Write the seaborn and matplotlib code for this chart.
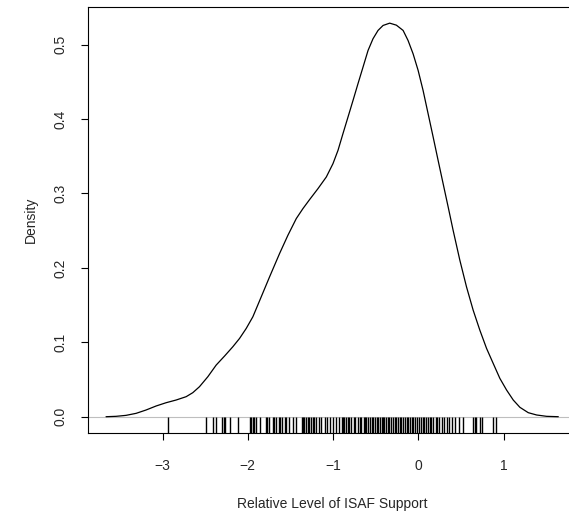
import numpy as np
import pandas as pd
import matplotlib
matplotlib.use("Agg")
import matplotlib.pyplot as plt
import seaborn as sns

# ---------------------- data ----------------------
# density curve, sampled along the drawn line
curve_x = [-3.662, -3.545, -3.428, -3.310, -3.193, -3.075, -2.958, -2.841, -2.723, -2.645,
           -2.567, -2.469, -2.371, -2.273, -2.176, -2.097, -2.019, -1.941, -1.843, -1.745,
           -1.628, -1.530, -1.432, -1.354, -1.276, -1.178, -1.080, -1.002, -0.943, -0.885,
           -0.826, -0.767, -0.709, -0.650, -0.591, -0.533, -0.474, -0.415, -0.337, -0.259,
           -0.180, -0.122, -0.063, -0.004, 0.054, 0.113, 0.172, 0.230, 0.289, 0.348,
           0.406, 0.485, 0.563, 0.641, 0.719, 0.798, 0.876, 0.954, 1.033, 1.111,
           1.189, 1.287, 1.385, 1.502, 1.639]
curve_y = [0.0, 0.0005, 0.0018, 0.0045, 0.0090, 0.0144, 0.0188, 0.0224, 0.0269, 0.0323,
           0.0403, 0.0537, 0.0694, 0.0815, 0.0940, 0.1052, 0.1186, 0.1343, 0.1611, 0.1880,
           0.2193, 0.2439, 0.2663, 0.2797, 0.2918, 0.3065, 0.3222, 0.3401, 0.3580, 0.3804,
           0.4027, 0.4251, 0.4475, 0.4698, 0.4922, 0.5079, 0.5191, 0.5258, 0.5289, 0.5262,
           0.5191, 0.5056, 0.4877, 0.4654, 0.4385, 0.4072, 0.3759, 0.3446, 0.3132, 0.2819,
           0.2506, 0.2103, 0.1745, 0.1432, 0.1164, 0.0918, 0.0716, 0.0515, 0.0358, 0.0224,
           0.0126, 0.0054, 0.0023, 0.0005, 0.0]

# rug: observed values
rug_vals = [-2.94, -2.49, -2.41, -2.37, -2.30, -2.28, -2.27, -2.21, -2.11, -1.98,
            -1.96, -1.94, -1.93, -1.90, -1.86, -1.79, -1.77, -1.75, -1.71, -1.69,
            -1.67, -1.64, -1.62, -1.60, -1.57, -1.55, -1.52, -1.47, -1.44, -1.37,
            -1.35, -1.34, -1.32, -1.30, -1.28, -1.26, -1.24, -1.22, -1.20, -1.17,
            -1.14, -1.10, -1.07, -1.04, -1.00, -0.97, -0.93, -0.90, -0.88, -0.87,
            -0.85, -0.83, -0.81, -0.79, -0.76, -0.74, -0.71, -0.69, -0.67, -0.64,
            -0.63, -0.61, -0.59, -0.57, -0.55, -0.53, -0.51, -0.49, -0.47, -0.45,
            -0.43, -0.41, -0.40, -0.38, -0.36, -0.34, -0.32, -0.30, -0.28, -0.26,
            -0.24, -0.22, -0.20, -0.18, -0.16, -0.14, -0.12, -0.10, -0.08, -0.06,
            -0.04, -0.02, 0.01, 0.03, 0.05, 0.07, 0.09, 0.11, 0.13, 0.15,
            0.17, 0.20, 0.22, 0.24, 0.27, 0.30, 0.33, 0.36, 0.39, 0.43,
            0.47, 0.52, 0.64, 0.66, 0.68, 0.72, 0.74, 0.87, 0.91]

x_ticks = [-3, -2, -1, 0, 1]
x_tick_labels = ["\u22123", "\u22122", "\u22121", "0", "1"]
y_ticks = [0.0, 0.1, 0.2, 0.3, 0.4, 0.5]
y_tick_labels = ["0.0", "0.1", "0.2", "0.3", "0.4", "0.5"]

# ---------------------- style ----------------------
sns.set_style("ticks")
plt.rcParams["font.family"] = ["Liberation Sans", "DejaVu Sans"]

fig = plt.figure(figsize=(5.69, 5.18), dpi=100)
ax = fig.add_axes([88.3 / 569, 85.3 / 518, 488 / 569, 426 / 518])

curve = pd.DataFrame({"x": curve_x, "y": curve_y})
ax.axhline(0, color="#BEBEBE", lw=0.8, zorder=1)
sns.lineplot(data=curve, x="x", y="y", ax=ax, color="black", lw=0.9, zorder=3)
sns.rugplot(x=rug_vals, ax=ax, height=0.037, color="black", lw=0.7)

ax.set_xlim(-3.87, 1.85)
ax.set_ylim(-0.0215, 0.551)
ax.set_xticks(x_ticks)
ax.set_xticklabels(x_tick_labels)
ax.set_yticks(y_ticks)
ax.set_yticklabels(y_tick_labels, rotation=90, va="center")

for s in ax.spines.values():
    s.set_color("black")
    s.set_linewidth(0.8)
ax.tick_params(axis="both", length=5, width=0.8, color="black", labelsize=10)
ax.tick_params(axis="x", pad=14)
ax.tick_params(axis="y", pad=10)
ax.set_xlabel("Relative Level of ISAF Support", fontsize=10, labelpad=17)
ax.set_ylabel("Density", fontsize=10, labelpad=11)

fig.savefig("out.png", dpi=100)
